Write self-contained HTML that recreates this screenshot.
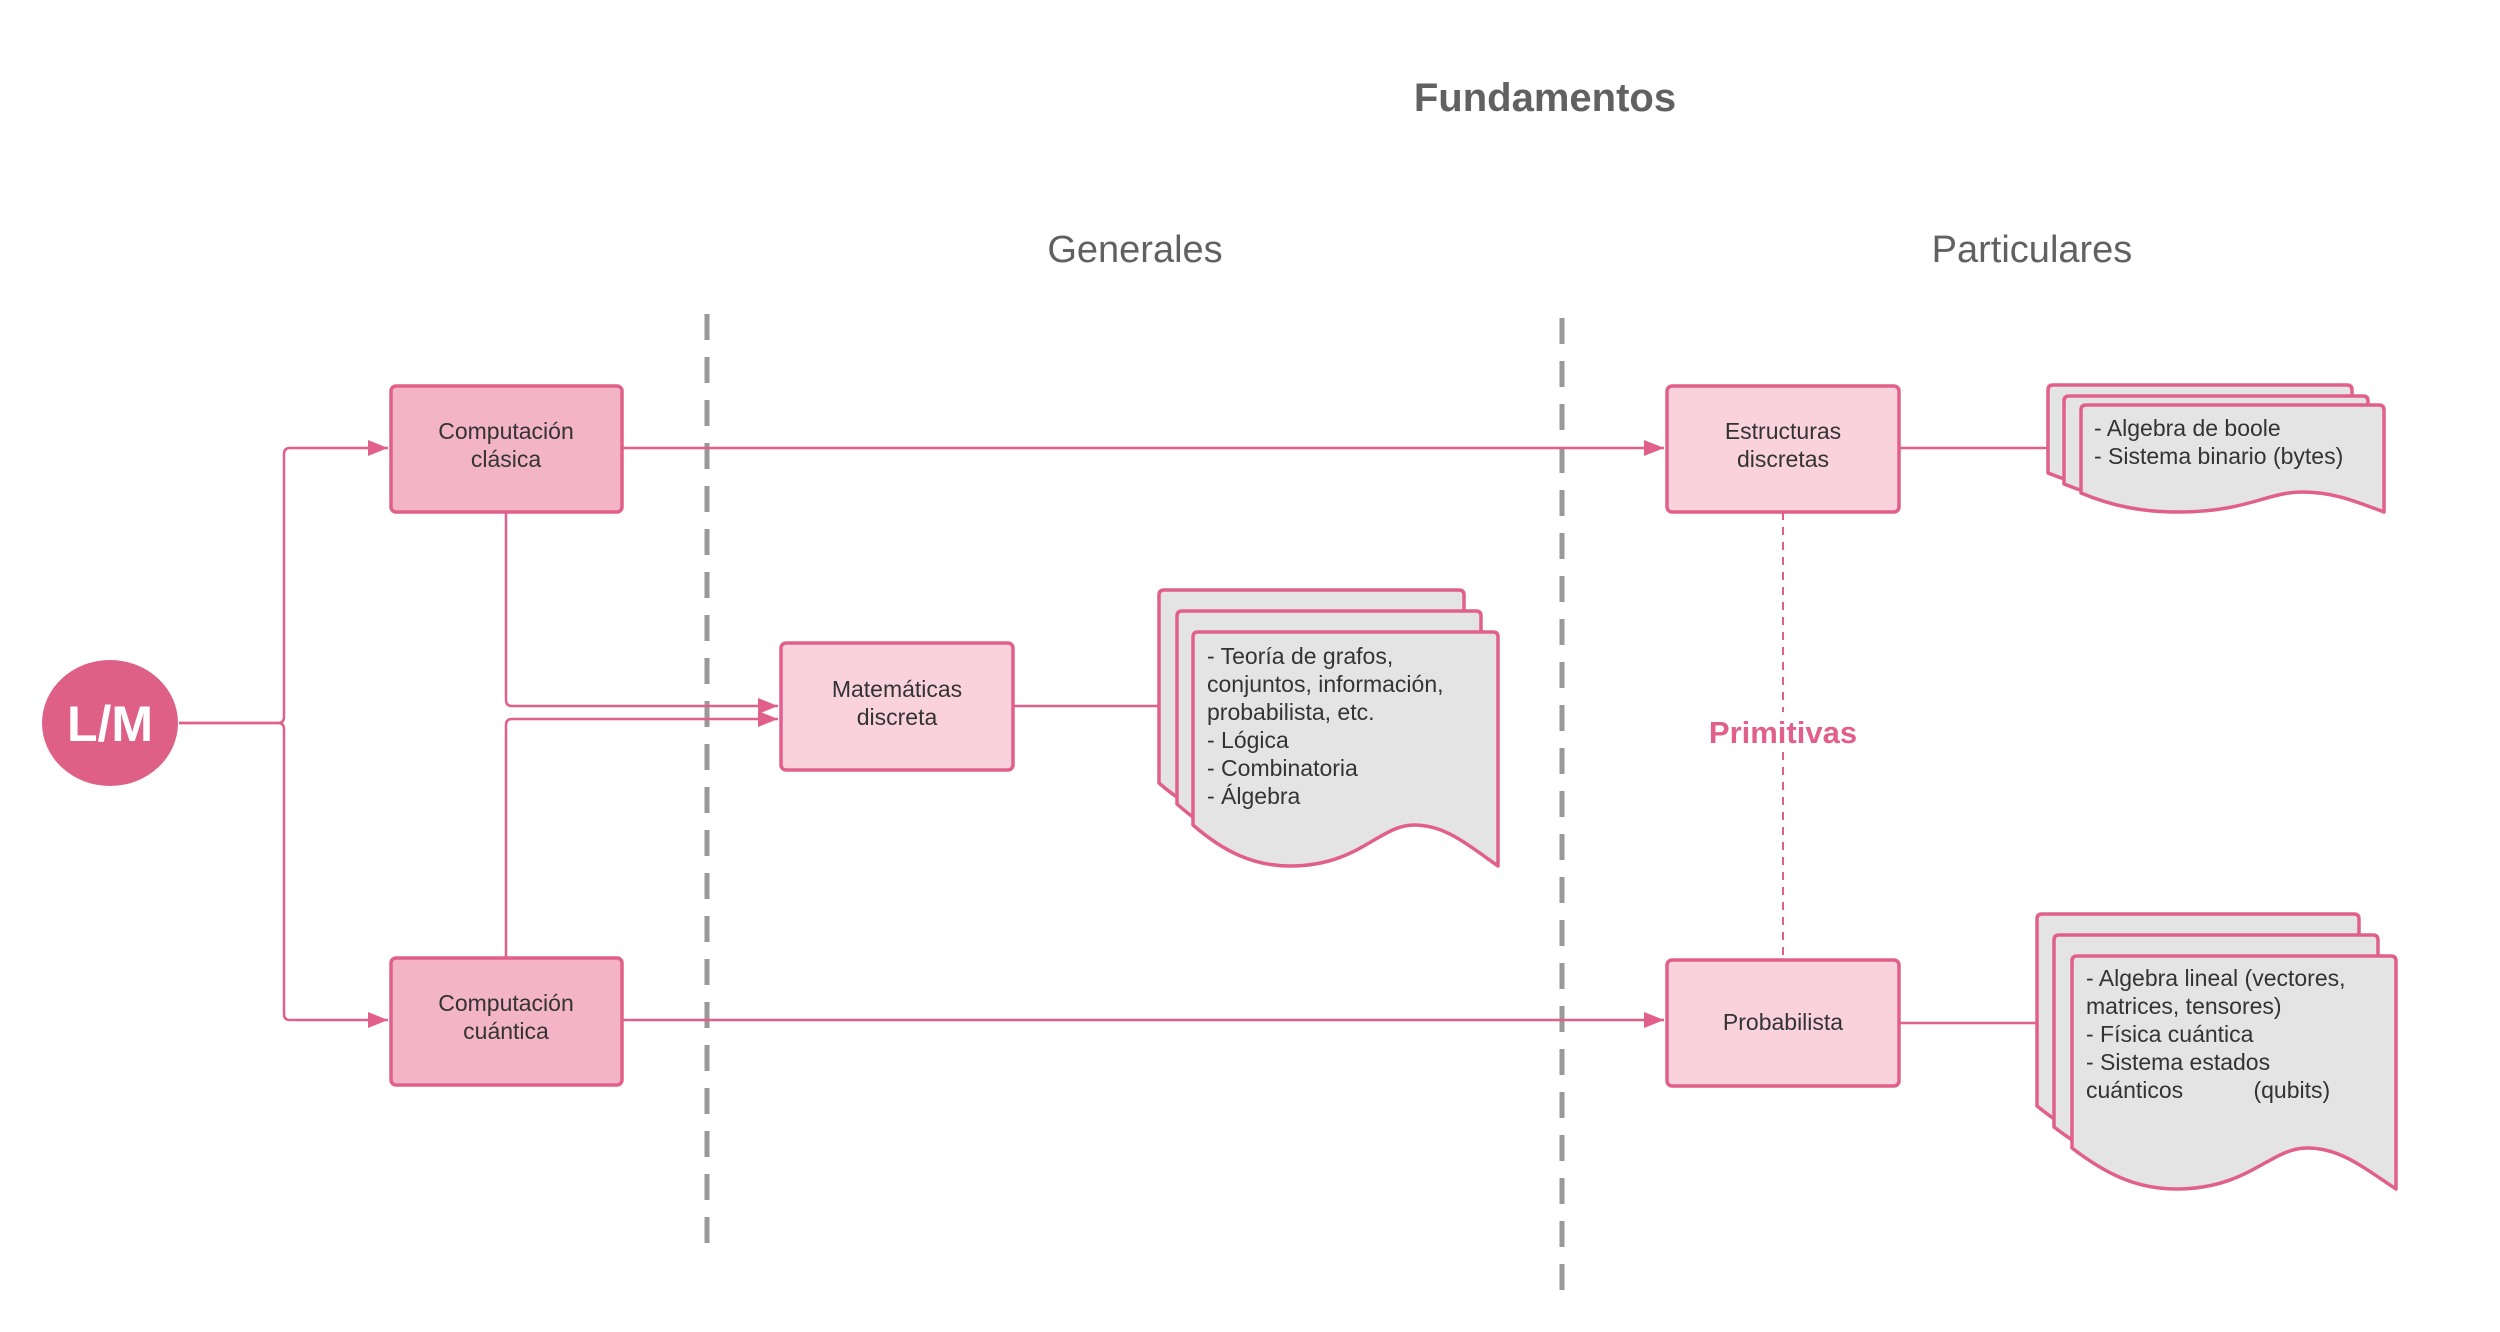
<!DOCTYPE html>
<html><head><meta charset="utf-8"><style>
html,body{margin:0;padding:0;background:#fff;}
svg{display:block;}
text{font-family:"Liberation Sans",sans-serif;}
</style></head><body>
<svg width="2500" height="1332" viewBox="0 0 2500 1332" xmlns="http://www.w3.org/2000/svg">
<defs>
<marker id="ah" markerWidth="10" markerHeight="10" refX="9" refY="5" orient="auto" markerUnits="userSpaceOnUse" viewBox="0 0 10 10">
<path d="M0,0 L10,5 L0,10 Z" fill="#e0608a"/>
</marker>
<marker id="ah2" markerWidth="20" markerHeight="16" refX="20" refY="8" orient="auto" markerUnits="userSpaceOnUse">
<path d="M0,0 L20,8 L0,16 Z" fill="#e0608a"/>
</marker>
</defs>

<!-- titles -->
<text x="1545" y="111" font-size="40" font-weight="bold" fill="#616161" text-anchor="middle">Fundamentos</text>
<text x="1135" y="262" font-size="38" fill="#616161" text-anchor="middle">Generales</text>
<text x="2032" y="262" font-size="38" fill="#616161" text-anchor="middle">Particulares</text>

<!-- dashed separators -->
<line x1="707" y1="314" x2="707" y2="1252" stroke="#999" stroke-width="5" stroke-dasharray="26,17"/>
<line x1="1562" y1="318" x2="1562" y2="1292" stroke="#999" stroke-width="5" stroke-dasharray="26,17"/>

<!-- connectors -->
<g fill="none" stroke="#e0608a" stroke-width="2.5">
<path d="M179,723 H278 Q284,723 284,717 V454 Q284,448 290,448 H388" marker-end="url(#ah2)"/>
<path d="M179,723 H278 Q284,723 284,729 V1014 Q284,1020 290,1020 H388" marker-end="url(#ah2)"/>
<path d="M506,512 V700 Q506,706 512,706 H778" marker-end="url(#ah2)"/>
<path d="M506,957 V725 Q506,719 512,719 H778" marker-end="url(#ah2)"/>
<path d="M622,448 H1664" marker-end="url(#ah2)"/>
<path d="M622,1020 H1664" marker-end="url(#ah2)"/>
<path d="M1013,706 H1160"/>
<path d="M1899,448 H2048"/>
<path d="M1899,1023 H2037"/>
</g>
<line x1="1783" y1="512" x2="1783" y2="959" stroke="#e0608a" stroke-width="2" stroke-dasharray="8,7"/>
<rect x="1700" y="712" width="166" height="40" fill="#fff"/>
<text x="1783" y="743" font-size="31" font-weight="bold" fill="#e0608a" text-anchor="middle">Primitivas</text>

<!-- L/M circle -->
<ellipse cx="110" cy="723" rx="68" ry="63" fill="#df6086"/>
<text x="110" y="741" font-size="50" font-weight="bold" fill="#fff" text-anchor="middle">L/M</text>

<!-- boxes -->
<g stroke="#e0608a" stroke-width="3.5">
<rect x="391" y="386" width="231" height="126" rx="5" fill="#f4b4c8"/>
<rect x="391" y="958" width="231" height="127" rx="5" fill="#f4b4c8"/>
<rect x="781" y="643" width="232" height="127" rx="5" fill="#f9d2de"/>
<rect x="1667" y="386" width="232" height="126" rx="5" fill="#f9d2de"/>
<rect x="1667" y="960" width="232" height="126" rx="5" fill="#f9d2de"/>
</g>
<g font-size="23" fill="#333" text-anchor="middle">
<text x="506" y="439">Computación</text><text x="506" y="467">clásica</text>
<text x="506" y="1011">Computación</text><text x="506" y="1039">cuántica</text>
<text x="897" y="697">Matemáticas</text><text x="897" y="725">discreta</text>
<text x="1783" y="439">Estructuras</text><text x="1783" y="467">discretas</text>
<text x="1783" y="1030">Probabilista</text>
</g>

<!-- document stacks -->
<g fill="#e4e4e4" stroke="#e0608a" stroke-width="3.5" stroke-linejoin="round">
<!-- Mat docs: W=305 H=234 -->
<path id="d1" d="M1159,595 Q1159,590 1164,590 H1459 Q1464,590 1464,595 V824 C1430,800 1410,783 1380,783 C1345,783 1325,824 1256,824 C1220,824 1190,810 1159,783 Z"/>
<path d="M1177,616 Q1177,611 1182,611 H1476 Q1481,611 1481,616 V845 C1447,821 1427,804 1397,804 C1362,804 1342,845 1273,845 C1237,845 1207,831 1177,804 Z"/>
<path d="M1193,637 Q1193,632 1198,632 H1493 Q1498,632 1498,637 V866 C1464,842 1444,825 1414,825 C1379,825 1359,866 1290,866 C1254,866 1224,852 1193,825 Z"/>
<!-- Estruct docs: W=304 H=107 -->
<path d="M2048,390 Q2048,385 2053,385 H2347 Q2352,385 2352,390 V492 C2320,480 2300,472 2270,472 C2235,472 2215,492 2146,492 C2110,492 2080,486 2048,473 Z"/>
<path d="M2064,401 Q2064,396 2069,396 H2363 Q2368,396 2368,401 V503 C2336,491 2316,483 2286,483 C2251,483 2231,503 2162,503 C2126,503 2096,497 2064,484 Z"/>
<path d="M2081,410 Q2081,405 2086,405 H2379 Q2384,405 2384,410 V512 C2352,500 2332,492 2302,492 C2267,492 2247,512 2178,512 C2142,512 2112,506 2081,493 Z"/>
<!-- Prob docs: W=324 H=233 -->
<path d="M2037,919 Q2037,914 2042,914 H2354 Q2359,914 2359,919 V1147 C2323,1123 2302,1106 2270,1106 C2233,1106 2212,1147 2139,1147 C2101,1147 2070,1133 2037,1106 Z"/>
<path d="M2054,940 Q2054,935 2059,935 H2373 Q2378,935 2378,940 V1168 C2342,1144 2321,1127 2289,1127 C2252,1127 2231,1168 2158,1168 C2120,1168 2089,1154 2054,1127 Z"/>
<path d="M2072,961 Q2072,956 2077,956 H2391 Q2396,956 2396,961 V1189 C2360,1165 2339,1148 2307,1148 C2270,1148 2249,1189 2176,1189 C2138,1189 2107,1175 2072,1148 Z"/>
</g>
<g font-size="23" fill="#333">
<text x="1207" y="664">- Teoría de grafos,</text>
<text x="1207" y="692">conjuntos, información,</text>
<text x="1207" y="720">probabilista, etc.</text>
<text x="1207" y="748">- Lógica</text>
<text x="1207" y="776">- Combinatoria</text>
<text x="1207" y="804">- Álgebra</text>
<text x="2094" y="436">- Algebra de boole</text>
<text x="2094" y="464">- Sistema binario (bytes)</text>
<text x="2086" y="986">- Algebra lineal (vectores,</text>
<text x="2086" y="1014">matrices, tensores)</text>
<text x="2086" y="1042">- Física cuántica</text>
<text x="2086" y="1070">- Sistema estados</text>
<text x="2086" y="1098" xml:space="preserve">cuánticos           (qubits)</text>
</g>
</svg>
</body></html>
